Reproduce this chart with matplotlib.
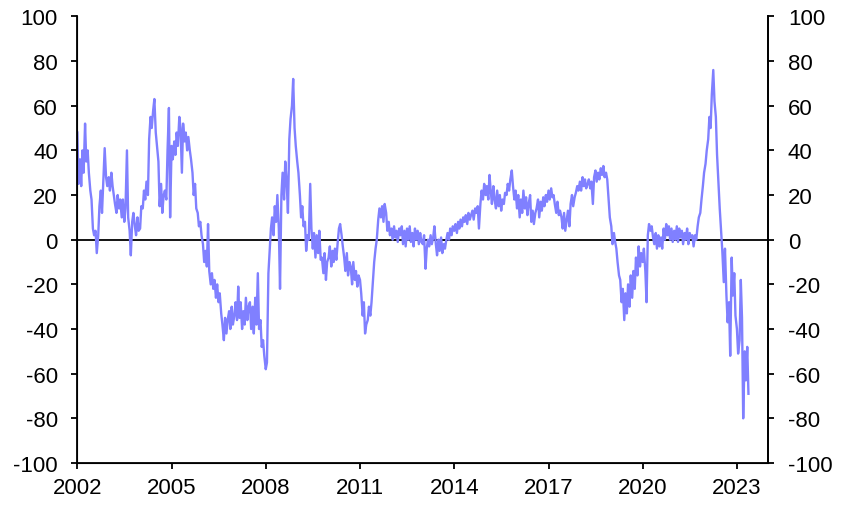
import matplotlib
matplotlib.use("Agg")
import matplotlib.pyplot as plt
import numpy as np
import pandas as pd

# semi-monthly readings (1st and 15th of each month)
v2002 = [48, 25, 36, 24, 40, 30, 52, 35, 40, 30, 22, 18, 5, 2, 4, -6, 2, 15, 22, 12, 28, 41, 28, 24]
v2003 = [28, 22, 30, 24, 20, 16, 12, 20, 14, 18, 10, 18, 8, 14, 40, 10, 4, -7, 8, 12, 6, 2, 10, 4]
v2004 = [5, 15, 14, 22, 18, 26, 20, 45, 55, 50, 58, 63, 48, 42, 35, 15, 25, 12, 20, 22, 18, 40, 59, 10]
v2005 = [42, 36, 44, 38, 48, 42, 55, 50, 30, 52, 44, 48, 40, 46, 40, 36, 30, 20, 25, 14, 12, 6, 8, 2]
v2006 = [-2, -10, -5, -12, 7, -14, -20, -15, -22, -18, -26, -20, -28, -24, -33, -38, -45, -35, -42, -36, -32, -40, -30, -38]
v2007 = [-34, -28, -36, -21, -35, -28, -40, -32, -38, -26, -36, -30, -28, -40, -30, -42, -26, -38, -15, -40, -36, -48, -45, -52]
v2008 = [-58, -55, -15, -5, 5, 10, 2, 15, 8, 20, 5, -22, 20, 30, 18, 35, 25, 12, 45, 54, 60, 72, 50, 42]
v2009 = [35, 30, 20, 10, 15, 6, 8, -5, 2, 0, 25, 5, -4, 3, -8, 2, -6, 4, -9, -8, -15, -6, -18, -10]
v2010 = [-8, -3, -12, -5, -10, -4, -9, -2, 5, 7, 2, -3, -8, -14, -6, -16, -10, -12, -20, -10, -18, -14, -21, -16]
v2011 = [-18, -24, -34, -28, -42, -38, -36, -30, -34, -28, -18, -10, -4, 0, 9, 14, 10, 15, 8, 16, 12, 4, 8, 2]
v2012 = [5, 0, 6, 1, 4, -1, 5, 2, 6, -2, 4, -3, 5, 0, 6, -1, 3, -3, 5, 0, 4, -2, 3, -1]
v2013 = [-2, 2, -13, -4, 0, -3, 2, -2, 1, 6, -2, -7, 0, -5, 1, -6, -2, -4, 0, 3, 0, 5, 2, 6]
v2014 = [4, 7, 3, 8, 5, 9, 6, 10, 8, 11, 7, 12, 9, 11, 13, 9, 14, 12, 15, 5, 16, 22, 18, 25]
v2015 = [20, 24, 18, 29, 22, 16, 24, 18, 14, 22, 15, 20, 13, 18, 16, 21, 20, 25, 22, 27, 31, 24, 18, 22]
v2016 = [14, 20, 10, 18, 12, 22, 14, 19, 11, 16, 20, 8, 13, 7, 12, 14, 18, 10, 17, 13, 19, 15, 20, 17]
v2017 = [22, 18, 23, 19, 20, 16, 12, 17, 11, 13, 10, 5, 12, 4, 9, 13, 6, 16, 20, 15, 19, 21, 24, 22]
v2018 = [26, 22, 28, 24, 27, 23, 25, 27, 23, 26, 16, 28, 31, 26, 30, 27, 32, 29, 33, 28, 30, 27, 18, 10]
v2019 = [6, -2, 3, -1, -4, -10, -16, -18, -28, -22, -36, -24, -33, -20, -30, -16, -26, -14, -22, -8, -16, -3, -12, -6]
v2020 = [-10, -4, -14, -28, 2, 7, 4, 6, 1, -2, 3, -4, 2, -3, 1, -4, 5, 0, 7, 2, 6, 0, 5, -1]
v2021 = [4, 0, 6, -1, 5, 1, 4, -2, 3, 0, 5, -2, 3, 1, 2, -3, 2, 0, 6, 10, 12, 18, 24, 30]
v2022 = [34, 40, 45, 55, 50, 65, 76, 62, 55, 38, 25, 14, 4, -5, -19, -4, -25, -37, -28, -52, -8, -25, -15, -34]
v2023 = [-40, -51, -45, -18, -35, -80, -50, -63, -48, -69]

values = (v2002 + v2003 + v2004 + v2005 + v2006 + v2007 + v2008 + v2009 + v2010
          + v2011 + v2012 + v2013 + v2014 + v2015 + v2016 + v2017 + v2018
          + v2019 + v2020 + v2021 + v2022 + v2023)
dates = pd.date_range("2002-01-01", periods=len(values), freq="SMS")

tick_years = [2002, 2005, 2008, 2011, 2014, 2017, 2020, 2023]
y_ticks = list(range(-100, 101, 20))

plt.rcParams['font.family'] = ['Liberation Sans', 'DejaVu Sans']
plt.rcParams['axes.unicode_minus'] = False

fig = plt.figure(figsize=(8.47, 5.06), dpi=100)
ax = fig.add_axes([0.0913, 0.083, 0.8158, 0.8826])

ax.axhline(0, color="black", lw=1.3, zorder=1)
ax.plot(dates, values, color="#8080ff", lw=1.7, zorder=2)

ax.set_xlim(pd.Timestamp("2002-01-01"), pd.Timestamp("2024-01-01"))
ax.set_ylim(-100, 100)
ax.set_xticks([pd.Timestamp(f"{y}-01-01") for y in tick_years])
ax.set_xticklabels([str(y) for y in tick_years])
ax.set_yticks(y_ticks)

ax.spines["top"].set_visible(False)
for s in ["left", "right", "bottom"]:
    ax.spines[s].set_linewidth(1.3)

ax.tick_params(axis="both", direction="out", length=4, width=1.3,
               labelsize=16, colors="black")
ax.tick_params(axis="y", pad=10)
ax.tick_params(axis="x", pad=6)

ax2 = ax.twinx()
ax2.set_ylim(-100, 100)
ax2.set_yticks(y_ticks)
ax2.spines["top"].set_visible(False)
ax2.spines["right"].set_linewidth(1.3)
ax2.tick_params(axis="y", direction="out", length=4, width=1.3,
                labelsize=16, pad=10)

fig.savefig("out.png", dpi=100)
